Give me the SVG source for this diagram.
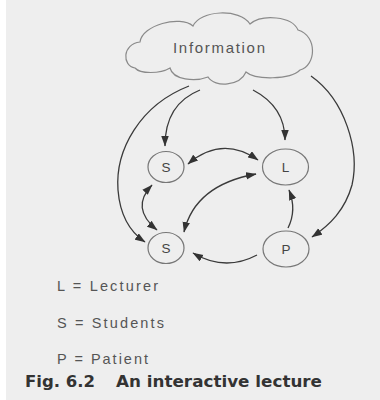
<svg xmlns="http://www.w3.org/2000/svg" width="380" height="400" viewBox="0 0 380 400">
<defs>
<marker id="ah" markerUnits="userSpaceOnUse" markerWidth="11" markerHeight="8" refX="10" refY="3.75" orient="auto-start-reverse">
<path d="M0,0 L10.5,3.75 L0,7.5 z" fill="#333"/>
</marker>
<style>
.bg{fill:#eeeeee}
.cloud{fill:none;stroke:#8a8a8a;stroke-width:1.2}
.node{fill:none;stroke:#777;stroke-width:1.2}
.lbl{font-family:"Liberation Sans",Arial,sans-serif;font-size:13.5px;fill:#444;text-anchor:middle}
.edge{fill:none;stroke:#3a3a3a;stroke-width:1.3}
.legend{font-family:"Liberation Sans",Arial,sans-serif;font-size:14.5px;fill:#555}
.cap{font-family:"DejaVu Sans","Liberation Sans",sans-serif;font-size:15px;font-weight:bold;fill:#333}
</style>
</defs>
<rect width="380" height="400" fill="#ffffff"/>
<rect class="bg" x="6" y="0" width="374" height="400"/>

<g id="information">
<path class="cloud" d="M135,68 C122,66 122,44 140,42 C142,25 180,15 193,26 C200,10 240,8 250,24 C262,14 292,16 298,30 C318,36 316,66 300,70 C290,80 255,80 246,72 C240,86 215,88 208,77 C195,82 173,80 170,68 C160,74 140,74 135,68 Z"/>
<text x="219" y="53" font-family="Liberation Sans, Arial, sans-serif" font-size="15" fill="#555" text-anchor="middle" textLength="92" lengthAdjust="spacing">Information</text>
</g>

<g id="node-s-top">
<ellipse class="node" cx="166" cy="167" rx="18" ry="15.5"/>
<text class="lbl" x="166" y="172">S</text>
</g>
<g id="node-l">
<ellipse class="node" cx="285.5" cy="167" rx="23" ry="18"/>
<text class="lbl" x="285.5" y="172">L</text>
</g>
<g id="node-s-bottom">
<ellipse class="node" cx="166" cy="248" rx="18" ry="15.5"/>
<text class="lbl" x="166" y="253">S</text>
</g>
<g id="node-p">
<ellipse class="node" cx="286" cy="249" rx="23" ry="18"/>
<text class="lbl" x="286" y="254">P</text>
</g>

<g id="connectors">
<path class="edge" d="M200,90 C180,98 165,115 165,146" marker-end="url(#ah)"/>
<path class="edge" d="M189,86 C140,105 115,150 118,190 C120,215 130,232 145,242" marker-end="url(#ah)"/>
<path class="edge" d="M253,90 C272,100 285,115 285,140" marker-end="url(#ah)"/>
<path class="edge" d="M311,76 C345,100 360,150 352,185 C345,210 330,225 312,237" marker-end="url(#ah)"/>
<path class="edge" d="M188,164 Q222,135 258,160" marker-start="url(#ah)" marker-end="url(#ah)"/>
<path class="edge" d="M256,174 Q195,185 184,232" marker-start="url(#ah)" marker-end="url(#ah)"/>
<path class="edge" d="M152,185 Q130,208 157,230" marker-start="url(#ah)" marker-end="url(#ah)"/>
<path class="edge" d="M288,228 Q297,210 289,190" marker-end="url(#ah)"/>
<path class="edge" d="M257,255 Q225,272 193,253" marker-end="url(#ah)"/>
</g>

<g id="legend">
<text class="legend" x="57" y="291" textLength="101" lengthAdjust="spacing">L = Lecturer</text>
<text class="legend" x="57" y="328" textLength="107" lengthAdjust="spacing">S = Students</text>
<text class="legend" x="57" y="364" textLength="91" lengthAdjust="spacing">P = Patient</text>
</g>
<g id="caption">
<text class="cap" x="25" y="387" textLength="70" lengthAdjust="spacingAndGlyphs">Fig. 6.2</text>
<text class="cap" x="116" y="387" textLength="206" lengthAdjust="spacingAndGlyphs">An interactive lecture</text>
</g>
</svg>
